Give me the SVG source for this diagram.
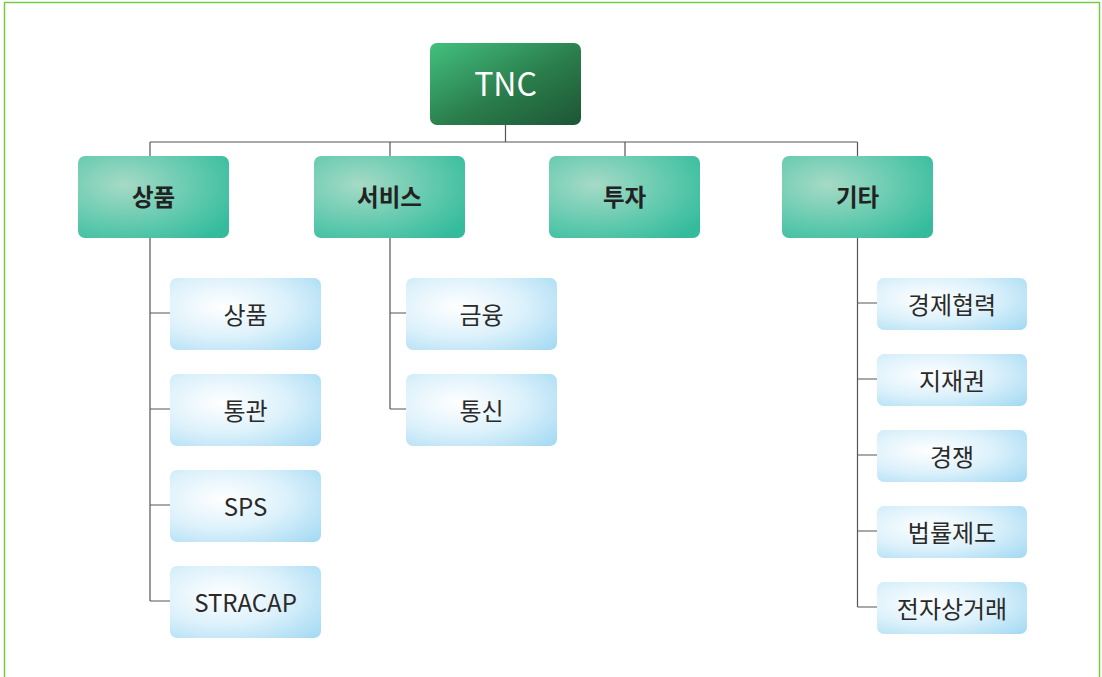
<svg xmlns="http://www.w3.org/2000/svg" width="1102" height="677" viewBox="0 0 1102 677">
<defs>
<linearGradient id="gTop" x1="0" y1="0" x2="1" y2="1">
<stop offset="0" stop-color="#43c07e"/>
<stop offset="0.55" stop-color="#2a7d4b"/>
<stop offset="1" stop-color="#1d5535"/>
</linearGradient>
<radialGradient id="gL1" cx="0.3" cy="0.35" r="0.85">
<stop offset="0" stop-color="#a6dac6"/>
<stop offset="0.6" stop-color="#5fc9ad"/>
<stop offset="1" stop-color="#33bb9c"/>
</radialGradient>
<radialGradient id="gL2" cx="0.35" cy="0.4" r="0.85">
<stop offset="0" stop-color="#ffffff"/>
<stop offset="0.5" stop-color="#dcf1fb"/>
<stop offset="1" stop-color="#a5daf3"/>
</radialGradient>
</defs>
<style>
.top{fill:url(#gTop)}
.l1{fill:url(#gL1)}
.l2{fill:url(#gL2)}
.t{font-family:"Noto Sans CJK KR","Noto Sans",sans-serif;text-anchor:middle;dominant-baseline:central}
.tt{font-size:32px;fill:#ffffff}
.t1{font-size:23.5px;font-weight:bold;fill:#222222}
.t2{font-size:24px;fill:#2a2a2a}
.ln{stroke:#555555;stroke-width:1.2;fill:none}
</style>
<rect x="4.5" y="2.5" width="1095" height="690" fill="#ffffff" stroke="#77cc44" stroke-width="1.5"/>
<g id="connectors">
<path class="ln" d="M505.5 125V142M150 142H857.5M150 142V156M390 142V156M625 142V156M857.5 142V156"/>
<path class="ln" d="M150 238V601M150 313H170M150 409H170M150 505H170M150 601H170"/>
<path class="ln" d="M390 238V409M390 313H406M390 409H406"/>
<path class="ln" d="M857.5 238V607M857.5 303H877M857.5 379H877M857.5 455H877M857.5 531H877M857.5 607H877"/>
</g>
<g id="tnc"><rect class="top" x="430" y="43" width="151" height="82" rx="7"/><text class="t tt" x="505.5" y="82">TNC</text></g>
<g id="goods"><rect class="l1" x="78" y="156" width="151" height="82" rx="7"/><text class="t t1" x="153.5" y="196">상품</text></g>
<g id="service"><rect class="l1" x="314" y="156" width="151" height="82" rx="7"/><text class="t t1" x="389.5" y="196">서비스</text></g>
<g id="invest"><rect class="l1" x="549" y="156" width="151" height="82" rx="7"/><text class="t t1" x="624.5" y="196">투자</text></g>
<g id="etc"><rect class="l1" x="782" y="156" width="151" height="82" rx="7"/><text class="t t1" x="857.5" y="196">기타</text></g>
<g id="g-goods"><rect class="l2" x="170" y="278" width="151" height="72" rx="7"/><text class="t t2" x="245.5" y="313">상품</text></g>
<g id="g-customs"><rect class="l2" x="170" y="374" width="151" height="72" rx="7"/><text class="t t2" x="245.5" y="409">통관</text></g>
<g id="g-sps"><rect class="l2" x="170" y="470" width="151" height="72" rx="7"/><text class="t t2" x="245.5" y="505">SPS</text></g>
<g id="g-stracap"><rect class="l2" x="170" y="566" width="151" height="72" rx="7"/><text class="t t2" x="245.5" y="601">STRACAP</text></g>
<g id="s-finance"><rect class="l2" x="406" y="278" width="151" height="72" rx="7"/><text class="t t2" x="481.5" y="313">금융</text></g>
<g id="s-telecom"><rect class="l2" x="406" y="374" width="151" height="72" rx="7"/><text class="t t2" x="481.5" y="409">통신</text></g>
<g id="e-econ"><rect class="l2" x="877" y="278" width="150" height="52" rx="7"/><text class="t t2" x="952" y="303">경제협력</text></g>
<g id="e-ip"><rect class="l2" x="877" y="354" width="150" height="52" rx="7"/><text class="t t2" x="952" y="379">지재권</text></g>
<g id="e-comp"><rect class="l2" x="877" y="430" width="150" height="52" rx="7"/><text class="t t2" x="952" y="455">경쟁</text></g>
<g id="e-legal"><rect class="l2" x="877" y="506" width="150" height="52" rx="7"/><text class="t t2" x="952" y="531">법률제도</text></g>
<g id="e-ecom"><rect class="l2" x="877" y="582" width="150" height="52" rx="7"/><text class="t t2" x="952" y="607">전자상거래</text></g>
</svg>
